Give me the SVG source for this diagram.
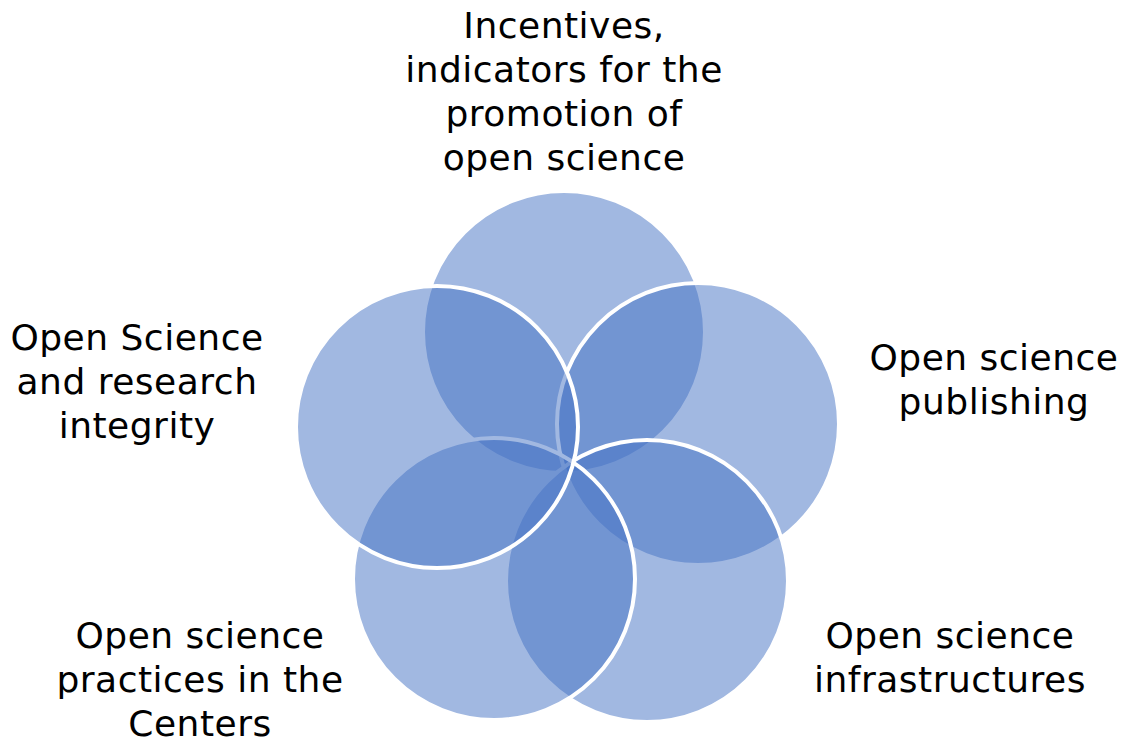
<svg xmlns="http://www.w3.org/2000/svg" width="1123" height="742" viewBox="0 0 1123 742">
  <style>
    .c { fill: #4472C4; fill-opacity: 0.5; stroke: #FFFFFF; stroke-width: 4; }
    .t { font-family: "DejaVu Sans", "Liberation Sans", sans-serif; font-size: 36px; fill: #000000; text-anchor: middle; letter-spacing: 0.5px; }
  </style>
  <rect width="1123" height="742" fill="#FFFFFF"/>
  <g id="node-top">
    <circle class="c" cx="564" cy="332" r="141"/>
    <text class="t" x="564" y="38">Incentives,</text>
    <text class="t" x="564" y="82">indicators for the</text>
    <text class="t" x="564" y="126">promotion of</text>
    <text class="t" x="564" y="170">open science</text>
  </g>
  <g id="node-right">
    <circle class="c" cx="698" cy="424" r="141"/>
    <text class="t" x="994" y="370">Open science</text>
    <text class="t" x="994" y="414">publishing</text>
  </g>
  <g id="node-bottom-right">
    <circle class="c" cx="647" cy="581" r="141"/>
    <text class="t" x="950" y="648">Open science</text>
    <text class="t" x="950" y="692">infrastructures</text>
  </g>
  <g id="node-bottom-left">
    <circle class="c" cx="494" cy="579" r="141"/>
    <text class="t" x="200" y="648">Open science</text>
    <text class="t" x="200" y="692">practices in the</text>
    <text class="t" x="200" y="736">Centers</text>
  </g>
  <g id="node-left">
    <circle class="c" cx="437" cy="427" r="141"/>
    <text class="t" x="137" y="350">Open Science</text>
    <text class="t" x="137" y="394">and research</text>
    <text class="t" x="137" y="438">integrity</text>
  </g>
  <g id="connectors"></g>
</svg>
